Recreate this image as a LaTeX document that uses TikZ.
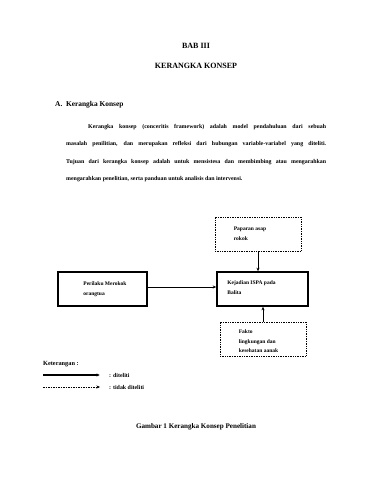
\documentclass[tikz,border=0pt]{standalone}
\usepackage{fontspec}
\setmainfont{Liberation Serif}
\usepackage{tikz}
\usetikzlibrary{arrows.meta,positioning}

\begin{document}
\begin{tikzpicture}[x=1pt, y=-1pt,
  kotak/.style={draw, line width=1.6pt, minimum width=89pt, minimum height=34pt, inner sep=0pt},
  kotaktitik/.style={draw, densely dotted, line width=0.7pt, minimum width=86pt, minimum height=34pt, inner sep=0pt},
  isi/.style={anchor=west, align=left, inner sep=0pt, font=\fontsize{5.5}{10}\selectfont\bfseries},
  judul/.style={inner sep=0pt, font=\fontsize{8}{9}\selectfont\bfseries},
  panah/.style={-{Stealth[length=3.5pt,width=3pt]}, line width=0.6pt}
]
\useasboundingbox (0,0) rectangle (371,480);

% judul bab
\node[judul] (bab) at (196,46) {BAB III};
\node[judul] (kerangka) at (196,66) {KERANGKA KONSEP};
\node[judul, anchor=west, font=\fontsize{7.4}{9}\selectfont\bfseries] (subbab) at (55,105) {A.\ \ Kerangka Konsep};
\node[anchor=north west, inner sep=0pt, text width=260pt, align=justify,
  font=\fontsize{5.9}{17.5}\selectfont\bfseries] (paragraf) at (66,124)
  {\hspace*{22pt}Kerangka konsep (conceritis framework) adalah model pendahuluan dari sebuah\linebreak
   masalah penilitian, dan merupakan refleksi dari hubungan variable-variabel yang diteliti.\linebreak
   Tujuan dari kerangka konsep adalah untuk mensistesa dan membimbing atau mengarahkan\linebreak
   mengarahkan penelitian, serta panduan untuk analisis dan intervensi.};

% kotak kerangka
\node[kotak] (perilaku) at (102.5,289) {};
\node[kotak, minimum width=91pt] (kejadian) at (262.5,289) {};
\node[kotaktitik] (paparan) at (258,234) {};
\node[kotaktitik] (fakto) at (263,339) {};
\node[isi] (tperilaku) at ([xshift=26pt]perilaku.west) {Perilaku Merokok\\orangtua};
\node[isi] (tkejadian) at ([xshift=11pt,yshift=1pt]kejadian.west) {Kejadian ISPA pada\\Balita};
\node[isi] (tpaparan) at ([xshift=19pt,yshift=0.5pt]paparan.west) {Paparan asap\\rokok};
\node[isi, font=\fontsize{5.5}{9.5}\selectfont\bfseries] (tfakto) at ([xshift=19pt,yshift=-2.5pt]fakto.west) {Fakto\\lingkungan dan\\kesehatan aanak};

% panah
\draw[panah] ([yshift=2pt]perilaku.east) -- ([yshift=2pt]kejadian.west);
\draw[panah] (paparan.south) -- (paparan.south |- kejadian.north);
\draw[panah] (fakto.north) -- (fakto.north |- kejadian.south);

% keterangan
\node[isi, font=\fontsize{6.3}{8}\selectfont\bfseries] (keterangan) at (43,364) {Keterangan :};
\coordinate (diteliti0) at (43,375);
\coordinate (diteliti1) at (100,375);
\coordinate (tidak0) at (43,387);
\coordinate (tidak1) at (100,387);
\draw[line width=1.1pt, -{Latex[length=3.5pt,width=3.5pt]}] (diteliti0) -- (diteliti1);
\draw[dash pattern=on 1.5pt off 1pt, line width=0.4pt, -{Stealth[length=3.5pt,width=3pt]}] (tidak0) -- (tidak1);
\node[isi, font=\fontsize{5.9}{8}\selectfont\bfseries] (lditeliti) at (109,375) {: diteliti};
\node[isi, font=\fontsize{5.9}{8}\selectfont\bfseries] (ltidak) at (109,387) {: tidak diteliti};

\node[judul, font=\fontsize{7.1}{8}\selectfont\bfseries] (gambar) at (196,426.5) {Gambar 1 Kerangka Konsep Penelitian};
\end{tikzpicture}
\end{document}
